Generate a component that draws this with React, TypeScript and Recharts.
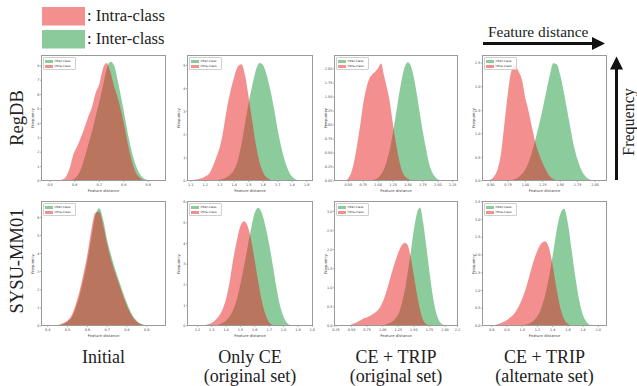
import React from 'react';
import { ComposedChart, Area, XAxis, YAxis } from 'recharts';

// ---------------- data ----------------
// Panel 1: RegDB / Initial
const p1X = [0.52, 0.535, 0.55, 0.565, 0.58, 0.595, 0.61, 0.625, 0.64, 0.655, 0.67, 0.685, 0.7, 0.715, 0.73, 0.745, 0.76, 0.775, 0.79, 0.805, 0.82, 0.835, 0.85, 0.865, 0.88, 0.895, 0.91, 0.925];
const p1Inter = [0, 0, 0, 0.02, 0.05, 0.12, 0.35, 0.8, 1.6, 2.5, 3.4, 4.45, 5.45, 6.6, 7.75, 8.28, 8.05, 7.0, 5.75, 4.4, 3.0, 1.9, 1.05, 0.5, 0.2, 0.07, 0.02, 0];
const p1Intra = [0, 0.02, 0.1, 0.3, 0.9, 1.86, 2.4, 3.0, 3.7, 4.45, 5.1, 6.1, 6.7, 7.8, 8.2, 7.6, 6.6, 5.8, 4.8, 3.6, 2.3, 1.25, 0.55, 0.22, 0.06, 0.02, 0, 0];

// Panel 2: RegDB / Only CE
const p2X = [1.1, 1.125, 1.15, 1.175, 1.2, 1.225, 1.25, 1.275, 1.3, 1.325, 1.35, 1.375, 1.4, 1.425, 1.45, 1.475, 1.5, 1.525, 1.55, 1.575, 1.6, 1.625, 1.65, 1.675, 1.7, 1.725, 1.75, 1.775, 1.8, 1.825, 1.85];
const p2Inter = [0, 0, 0, 0, 0, 0, 0, 0.02, 0.05, 0.1, 0.16, 0.28, 0.5, 0.9, 1.6, 2.5, 3.4, 4.15, 4.8, 5.1, 5.0, 4.55, 3.9, 3.1, 2.2, 1.45, 0.85, 0.42, 0.18, 0.06, 0.01];
const p2Intra = [0, 0.05, 0.08, 0.12, 0.2, 0.3, 0.6, 1.0, 1.45, 2.2, 3.15, 3.9, 4.5, 4.95, 5.05, 4.55, 3.6, 2.55, 1.55, 0.8, 0.36, 0.15, 0.05, 0.02, 0, 0, 0, 0, 0, 0, 0];

// Panel 3: RegDB / CE + TRIP (original set)
const p3X = [0.45, 0.5, 0.55, 0.6, 0.65, 0.7, 0.75, 0.8, 0.85, 0.9, 0.95, 1.0, 1.05, 1.1, 1.15, 1.2, 1.25, 1.3, 1.35, 1.4, 1.45, 1.5, 1.55, 1.6, 1.65, 1.7, 1.75, 1.8, 1.85, 1.9, 1.95, 2.0, 2.05, 2.1];
const p3Inter = [0, 0, 0, 0, 0, 0, 0, 0, 0.01, 0.02, 0.03, 0.06, 0.12, 0.22, 0.375, 0.59, 0.876, 1.2, 1.54, 1.84, 2.05, 2.12, 2.05, 1.84, 1.54, 1.2, 0.876, 0.59, 0.33, 0.17, 0.08, 0.03, 0.01, 0];
const p3Intra = [0, 0.05, 0.15, 0.36, 0.66, 1.0, 1.38, 1.65, 1.82, 1.9, 1.95, 2.02, 2.1, 1.88, 1.65, 1.38, 1.0, 0.67, 0.38, 0.18, 0.08, 0.04, 0.02, 0.01, 0, 0, 0, 0, 0, 0, 0, 0, 0, 0];

// Panel 4: RegDB / CE + TRIP (alternate set)
const p4X = [0.45, 0.5, 0.55, 0.6, 0.65, 0.7, 0.75, 0.8, 0.85, 0.9, 0.95, 1.0, 1.05, 1.1, 1.15, 1.2, 1.25, 1.3, 1.35, 1.4, 1.45, 1.5, 1.55, 1.6, 1.65, 1.7, 1.75, 1.8, 1.85, 1.9, 1.95, 2.0];
const p4Inter = [0, 0, 0, 0, 0, 0, 0.01, 0.02, 0.04, 0.08, 0.15, 0.25, 0.42, 0.65, 0.92, 1.22, 1.55, 1.9, 2.25, 2.5, 2.48, 2.25, 1.9, 1.5, 1.1, 0.72, 0.45, 0.25, 0.12, 0.05, 0.02, 0];
const p4Intra = [0, 0.03, 0.1, 0.25, 0.6, 1.25, 1.9, 2.35, 2.45, 2.33, 2.15, 1.75, 1.45, 1.1, 0.78, 0.55, 0.37, 0.22, 0.1, 0.04, 0.01, 0, 0, 0, 0, 0, 0, 0, 0, 0, 0, 0];

// Panel 5: SYSU-MM01 / Initial
const p5X = [0.4, 0.42, 0.44, 0.46, 0.48, 0.5, 0.52, 0.54, 0.56, 0.58, 0.6, 0.62, 0.64, 0.66, 0.68, 0.7, 0.72, 0.74, 0.76, 0.78, 0.8, 0.82, 0.84, 0.86, 0.88, 0.9, 0.92, 0.94];
const p5Inter = [0, 0.01, 0.03, 0.06, 0.12, 0.24, 0.45, 0.95, 1.65, 2.55, 3.6, 4.85, 6.1, 6.5, 5.85, 4.75, 3.9, 3.15, 2.5, 1.85, 1.25, 0.75, 0.4, 0.18, 0.08, 0.03, 0.01, 0];
const p5Intra = [0, 0.01, 0.04, 0.08, 0.16, 0.3, 0.58, 1.15, 1.9, 2.85, 3.95, 5.3, 6.25, 6.3, 5.55, 4.5, 3.65, 2.95, 2.3, 1.68, 1.1, 0.65, 0.33, 0.15, 0.06, 0.02, 0, 0];

// Panel 6: SYSU-MM01 / Only CE
const p6X = [1.2, 1.225, 1.25, 1.275, 1.3, 1.325, 1.35, 1.375, 1.4, 1.425, 1.45, 1.475, 1.5, 1.525, 1.55, 1.575, 1.6, 1.625, 1.65, 1.675, 1.7, 1.725, 1.75, 1.775, 1.8, 1.825, 1.85, 1.875];
const p6Inter = [0, 0, 0, 0, 0.01, 0.03, 0.07, 0.14, 0.27, 0.46, 0.8, 1.3, 2.05, 2.9, 3.85, 4.75, 5.5, 5.73, 5.45, 4.8, 3.95, 2.95, 1.88, 1.0, 0.45, 0.15, 0.04, 0.01];
const p6Intra = [0.01, 0.02, 0.04, 0.08, 0.15, 0.28, 0.48, 0.8, 1.32, 2.15, 3.25, 4.15, 4.85, 5.08, 4.85, 4.15, 3.15, 2.1, 1.18, 0.55, 0.18, 0.05, 0.01, 0, 0, 0, 0, 0];

// Panel 7: SYSU-MM01 / CE + TRIP (original set)
const p7X = [0.35, 0.4, 0.45, 0.5, 0.55, 0.6, 0.65, 0.7, 0.75, 0.8, 0.85, 0.9, 0.95, 1.0, 1.05, 1.1, 1.15, 1.2, 1.25, 1.3, 1.35, 1.4, 1.45, 1.5, 1.55, 1.6, 1.65, 1.7, 1.75, 1.8, 1.85, 1.9, 1.95, 2.0, 2.05];
const p7Inter = [0, 0, 0, 0, 0, 0, 0, 0, 0, 0, 0, 0, 0, 0.02, 0.04, 0.07, 0.11, 0.19, 0.3, 0.55, 0.9, 1.38, 1.93, 2.52, 2.95, 3.1, 2.7, 2.08, 1.43, 0.83, 0.4, 0.16, 0.05, 0.01, 0];
const p7Intra = [0, 0.01, 0.02, 0.04, 0.07, 0.11, 0.16, 0.2, 0.23, 0.27, 0.32, 0.38, 0.47, 0.63, 0.85, 1.13, 1.42, 1.68, 1.92, 2.1, 2.18, 2.12, 1.8, 1.32, 0.83, 0.42, 0.15, 0.05, 0.01, 0, 0, 0, 0, 0, 0];

// Panel 8: SYSU-MM01 / CE + TRIP (alternate set)
const p8X = [0.55, 0.6, 0.65, 0.7, 0.75, 0.8, 0.85, 0.9, 0.95, 1.0, 1.05, 1.1, 1.15, 1.2, 1.25, 1.3, 1.35, 1.4, 1.45, 1.5, 1.55, 1.6, 1.65, 1.7, 1.75, 1.8, 1.85, 1.9, 1.95, 2.0];
const p8Inter = [0, 0, 0, 0, 0, 0, 0, 0, 0.01, 0.02, 0.04, 0.08, 0.15, 0.28, 0.5, 0.85, 1.35, 1.97, 2.65, 3.15, 3.3, 2.9, 2.13, 1.36, 0.72, 0.3, 0.1, 0.03, 0.01, 0];
const p8Intra = [0, 0.01, 0.03, 0.06, 0.11, 0.17, 0.25, 0.36, 0.53, 0.77, 1.07, 1.45, 1.82, 2.12, 2.32, 2.39, 2.22, 1.72, 1.07, 0.52, 0.2, 0.06, 0.01, 0, 0, 0, 0, 0, 0, 0];

// tick labels
const p1XTicks = [0.5, 0.6, 0.7, 0.8, 0.9];
const p1YTicks = [0, 1, 2, 3, 4, 5, 6, 7, 8];
const p2XTicks = [1.1, 1.2, 1.3, 1.4, 1.5, 1.6, 1.7, 1.8, 1.9];
const p2YTicks = [0, 1, 2, 3, 4, 5];
const p3XTicks = [0.5, 0.75, 1.0, 1.25, 1.5, 1.75, 2.0, 2.25];
const p3YTicks = [0, 0.25, 0.5, 0.75, 1.0, 1.25, 1.5, 1.75, 2.0];
const p4XTicks = [0.5, 0.75, 1.0, 1.25, 1.5, 1.75, 2.0];
const p4YTicks = [0, 0.5, 1.0, 1.5, 2.0, 2.5];
const p5XTicks = [0.4, 0.5, 0.6, 0.7, 0.8, 0.9];
const p5YTicks = [0, 1, 2, 3, 4, 5, 6];
const p6XTicks = [1.2, 1.3, 1.4, 1.5, 1.6, 1.7, 1.8, 1.9, 2.0];
const p6YTicks = [0, 1, 2, 3, 4, 5, 6];
const p7XTicks = [0.25, 0.5, 0.75, 1.0, 1.25, 1.5, 1.75, 2.0, 2.2];
const p7YTicks = [0, 0.5, 1.0, 1.5, 2.0, 2.5, 3.0];
const p8XTicks = [0.6, 0.8, 1.0, 1.2, 1.4, 1.6, 1.8, 2.0];
const p8YTicks = [0, 0.5, 1.0, 1.5, 2.0, 2.5, 3.0, 3.5];

const rowLabels = ['RegDB', 'SYSU-MM01'];
const colLabels = [['Initial', ''], ['Only CE', '(original set)'], ['CE + TRIP', '(original set)'], ['CE + TRIP', '(alternate set)']];
const seriesNames = ['Intra-class', 'Inter-class'];

// ---------------- styles ----------------
const GREEN = '#17973a';
const RED = '#e91f1f';
const GREEN_SOLID = '#8bcb9b';
const RED_SOLID = '#f48f8f';
const SERIF = '"Liberation Serif", "Times New Roman", serif';
const SANS = '"DejaVu Sans", sans-serif';

type Cfg = {
  x0: number; x1: number; y0: number; y1: number;
  xs: number[]; inter: number[]; intra: number[];
  xDomain: [number, number]; yDomain: [number, number];
  xTicks: number[]; yTicks: number[];
  xFmt: (v: number) => string; yFmt: (v: number) => string;
};

const f0 = (v: number) => String(Math.round(v));
const f1 = (v: number) => v.toFixed(1);
const f2 = (v: number) => v.toFixed(2);
const f2b = (v: number) => (v === 2.2 ? '2.2' : v.toFixed(2));

const COLS = [[41, 166], [187, 313], [334, 458], [482, 607]];
const ROWS = [[55, 181], [201, 326]];

const panels: Cfg[] = [
  { x0: COLS[0][0], x1: COLS[0][1], y0: ROWS[0][0], y1: ROWS[0][1], xs: p1X, inter: p1Inter, intra: p1Intra, xDomain: [0.463, 0.972], yDomain: [0, 8.75], xTicks: p1XTicks, yTicks: p1YTicks, xFmt: f1, yFmt: f0 },
  { x0: COLS[1][0], x1: COLS[1][1], y0: ROWS[0][0], y1: ROWS[0][1], xs: p2X, inter: p2Inter, intra: p2Intra, xDomain: [1.0745, 1.943], yDomain: [0, 5.45], xTicks: p2XTicks, yTicks: p2YTicks, xFmt: f1, yFmt: f0 },
  { x0: COLS[2][0], x1: COLS[2][1], y0: ROWS[0][0], y1: ROWS[0][1], xs: p3X, inter: p3Inter, intra: p3Intra, xDomain: [0.26, 2.339], yDomain: [0, 2.25], xTicks: p3XTicks, yTicks: p3YTicks, xFmt: f2, yFmt: f2 },
  { x0: COLS[3][0], x1: COLS[3][1], y0: ROWS[0][0], y1: ROWS[0][1], xs: p4X, inter: p4Inter, intra: p4Intra, xDomain: [0.375, 2.173], yDomain: [0, 2.675], xTicks: p4XTicks, yTicks: p4YTicks, xFmt: f2, yFmt: f1 },
  { x0: COLS[0][0], x1: COLS[0][1], y0: ROWS[1][0], y1: ROWS[1][1], xs: p5X, inter: p5Inter, intra: p5Intra, xDomain: [0.366, 0.997], yDomain: [0, 6.9], xTicks: p5XTicks, yTicks: p5YTicks, xFmt: f1, yFmt: f0 },
  { x0: COLS[1][0], x1: COLS[1][1], y0: ROWS[1][0], y1: ROWS[1][1], xs: p6X, inter: p6Inter, intra: p6Intra, xDomain: [1.128, 2.005], yDomain: [0, 6.06], xTicks: p6XTicks, yTicks: p6YTicks, xFmt: f1, yFmt: f0 },
  { x0: COLS[2][0], x1: COLS[2][1], y0: ROWS[1][0], y1: ROWS[1][1], xs: p7X, inter: p7Inter, intra: p7Intra, xDomain: [0.218, 2.209], yDomain: [0, 3.27], xTicks: p7XTicks, yTicks: p7YTicks, xFmt: f2b, yFmt: f1 },
  { x0: COLS[3][0], x1: COLS[3][1], y0: ROWS[1][0], y1: ROWS[1][1], xs: p8X, inter: p8Inter, intra: p8Intra, xDomain: [0.473, 2.114], yDomain: [0, 3.52], xTicks: p8XTicks, yTicks: p8YTicks, xFmt: f1, yFmt: f1 },
];

const ML = 20, MR = 4, MT = 4, MB = 14;
const tickStyle = { fontSize: 3.4, fill: '#444', fontFamily: SANS };

function Panel({ c }: { c: Cfg }) {
  const w = c.x1 - c.x0;
  const h = c.y1 - c.y0;
  const data = c.xs.map((x, i) => ({ x, inter: c.inter[i], intra: c.intra[i] }));
  return (
    <div style={{ position: 'absolute', left: c.x0 - ML, top: c.y0 - MT, width: w + ML + MR, height: h + MT + MB }}>
      <ComposedChart width={w + ML + MR} height={h + MT + MB} data={data} margin={{ top: MT, right: MR, bottom: 0, left: 0 }}>
        <XAxis dataKey="x" type="number" domain={c.xDomain} ticks={c.xTicks} tickFormatter={c.xFmt} interval={0}
          allowDataOverflow height={MB} tickSize={1} tickMargin={1.6} axisLine={false}
          tickLine={{ stroke: '#666', strokeWidth: 0.5 }} tick={tickStyle} />
        <YAxis type="number" domain={c.yDomain} ticks={c.yTicks} tickFormatter={c.yFmt} interval={0}
          allowDataOverflow width={ML} tickSize={1} tickMargin={0.6} axisLine={false}
          tickLine={{ stroke: '#666', strokeWidth: 0.5 }} tick={tickStyle} />
        <Area type="monotone" dataKey="inter" name={seriesNames[1]} stroke="none" fill={GREEN} fillOpacity={0.5} isAnimationActive={false} />
        <Area type="monotone" dataKey="intra" name={seriesNames[0]} stroke="none" fill={RED} fillOpacity={0.5} isAnimationActive={false} />
      </ComposedChart>
      <div style={{ position: 'absolute', left: ML, top: MT, width: w, height: h, border: '1px solid #9a9a9a', boxSizing: 'border-box', pointerEvents: 'none' }} />
      {/* in-plot legend */}
      <div style={{ position: 'absolute', left: ML + 1.5, top: MT + 2, width: 33, height: 12.5, border: '0.5px solid #cfcfcf', borderRadius: 1, background: 'rgba(255,255,255,0.8)', boxSizing: 'border-box' }}>
        <div style={{ position: 'absolute', left: 1.6, top: 2.2, width: 8, height: 3, background: GREEN_SOLID }} />
        <div style={{ position: 'absolute', left: 11, top: 1.2, fontSize: 3.1, lineHeight: '5px', fontFamily: SANS, color: '#333', whiteSpace: 'nowrap' }}>{seriesNames[1]}</div>
        <div style={{ position: 'absolute', left: 1.6, top: 7.4, width: 8, height: 3, background: RED_SOLID }} />
        <div style={{ position: 'absolute', left: 11, top: 6.4, fontSize: 3.1, lineHeight: '5px', fontFamily: SANS, color: '#333', whiteSpace: 'nowrap' }}>{seriesNames[0]}</div>
      </div>
      {/* axis titles */}
      <div style={{ position: 'absolute', left: ML + w / 2, top: MT + h + 9, transform: 'translate(-50%,-50%)', fontSize: 3.8, lineHeight: '5px', fontFamily: SANS, color: '#444', whiteSpace: 'nowrap' }}>Feature distance</div>
      <div style={{ position: 'absolute', left: ML - 9, top: MT + h / 2, transform: 'translate(-50%,-50%) rotate(-90deg)', fontSize: 3.8, lineHeight: '5px', fontFamily: SANS, color: '#444', whiteSpace: 'nowrap' }}>Frequency</div>
    </div>
  );
}

export default function App() {
  return (
    <div style={{ position: 'fixed', left: 0, top: 0, width: 637, height: 386, background: '#fff', overflow: 'hidden' }}>
      <svg width={637} height={386} style={{ position: 'absolute', left: 0, top: 0 }}>
        {/* top-left legend */}
        <rect x={42} y={7} width={43} height={18.5} fill={RED_SOLID} />
        <text x={87} y={21} fontSize={16.6} fontFamily={SERIF} fill="#222">: {seriesNames[0]}</text>
        <rect x={42} y={30} width={43} height={18.5} fill={GREEN_SOLID} />
        <text x={87} y={43.6} fontSize={16.6} fontFamily={SERIF} fill="#222">: {seriesNames[1]}</text>
        {/* top-right axis arrows */}
        <text x={488} y={37} fontSize={15.4} fontFamily={SERIF} fill="#222">Feature distance</text>
        <line x1={483} y1={43.5} x2={594} y2={43.5} stroke="#111" strokeWidth={3} />
        <polygon points="592,37 605,43.5 592,50" fill="#111" />
        <line x1={616.5} y1={180} x2={616.5} y2={68} stroke="#111" strokeWidth={3} />
        <polygon points="610,69.5 616.5,56.5 623,69.5" fill="#111" />
        <text x={628} y={122} fontSize={16} fontFamily={SERIF} fill="#222" textAnchor="middle" dominantBaseline="central" transform="rotate(-90 628 122)">Frequency</text>
        {/* row labels */}
        <text x={17} y={118} fontSize={18.5} fontFamily={SERIF} fill="#222" textAnchor="middle" dominantBaseline="central" transform="rotate(-90 17 118)">{rowLabels[0]}</text>
        <text x={17} y={261} fontSize={18.5} fontFamily={SERIF} fill="#222" textAnchor="middle" dominantBaseline="central" textLength={105} lengthAdjust="spacingAndGlyphs" transform="rotate(-90 17 261)">{rowLabels[1]}</text>
        {/* column labels */}
        {colLabels.map((lbl, i) => {
          const cx = (COLS[i][0] + COLS[i][1]) / 2;
          return (
            <g key={i}>
              <text x={cx} y={363} fontSize={18} fontFamily={SERIF} fill="#222" textAnchor="middle">{lbl[0]}</text>
              {lbl[1] ? <text x={cx} y={382} fontSize={18} fontFamily={SERIF} fill="#222" textAnchor="middle">{lbl[1]}</text> : null}
            </g>
          );
        })}
      </svg>
      {panels.map((c, i) => <Panel key={i} c={c} />)}
    </div>
  );
}
